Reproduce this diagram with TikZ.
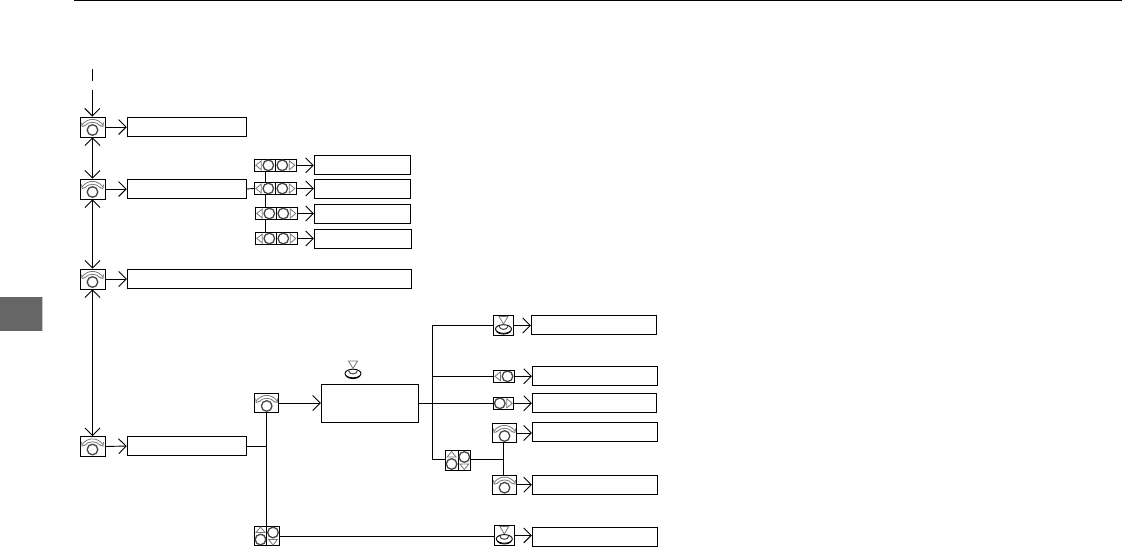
\documentclass[tikz,border=0pt]{standalone}
\usepackage{tikz}
\usetikzlibrary{arrows.meta}
\definecolor{ink}{RGB}{0,0,0}
\definecolor{tabgray}{RGB}{102,102,102}
\definecolor{tabedge}{RGB}{200,200,200}
\definecolor{soft}{RGB}{120,120,120}
\definecolor{knob}{RGB}{70,70,70}
\tikzset{
  label/.style={draw=ink, line width=0.9pt, inner sep=0pt, minimum height=19pt},
  keycap/.style={draw=ink, line width=0.9pt, fill=white, inner sep=0pt},
  flow/.style={-{Straight Barb[length=7.5pt,width=15pt,line width=0.9pt]}, ink, line width=0.9pt},
  both/.style={{Straight Barb[length=7.5pt,width=15pt,line width=0.9pt]}-{Straight Barb[length=7.5pt,width=15pt,line width=0.9pt]}, ink, line width=0.9pt},
  link/.style={ink, line width=0.9pt},
  dialicon/.pic={
    \draw[knob, line width=1.3pt] (0,3) circle (5.3pt);
    \draw[soft, line width=0.8pt] (-10.5,-2) .. controls (-5,-9.5) and (5,-9.5) .. (10.5,-2);
    \draw[soft, line width=0.8pt] (-8,-1) .. controls (-4,-6) and (4,-6) .. (8,-1);
    \draw[soft, line width=0.8pt] (-11,-4.5) -- (-10.5,-0.5) -- (-7.5,-1.5) (11,-4.5) -- (10.5,-0.5) -- (7.5,-1.5);
  },
  pushicon/.pic={
    \draw[soft, line width=0.8pt] (-4.5,-9) -- (4.5,-9) -- (0,-1.5) -- cycle;
    \draw[ink, line width=0.9pt] (0,3.5) ellipse (8pt and 4.3pt);
    \draw[knob, line width=1pt] (-4.5,0.5) .. controls (-4,5) and (4,5) .. (4.5,0.5);
    \draw[ink, line width=0.9pt] (-7,6) .. controls (-4,9.5) and (4,9.5) .. (7,6);
  },
  lefticon/.pic={
    \draw[soft, line width=0.8pt] (-3.5,-4.5) -- (-3.5,4.5) -- (-9,0) -- cycle;
    \draw[knob, line width=1.3pt] (3.5,0) circle (5.3pt);
  },
  righticon/.pic={
    \draw[soft, line width=0.8pt] (3.5,-4.5) -- (3.5,4.5) -- (9,0) -- cycle;
    \draw[knob, line width=1.3pt] (-3.5,0) circle (5.3pt);
  },
  upicon/.pic={
    \draw[soft, line width=0.8pt] (-4.5,-3.5) -- (4.5,-3.5) -- (0,-9) -- cycle;
    \draw[knob, line width=1.3pt] (0,3.5) circle (5.3pt);
  },
  downicon/.pic={
    \draw[soft, line width=0.8pt] (-4.5,3.5) -- (4.5,3.5) -- (0,9) -- cycle;
    \draw[knob, line width=1.3pt] (0,-3.5) circle (5.3pt);
  },
}
\begin{document}
\begin{tikzpicture}[x=1pt, y=-1pt]
  \useasboundingbox (0,0) rectangle (1122,547);
  % page furniture
  \draw[ink, line width=1.2pt] (74,0.6) -- (1122,0.6);
  \fill[tabedge] (0,297) rectangle (43,331);
  \fill[tabgray] (0,297) rectangle (42,331);
  % left column
  \coordinate (st1) at (92.3,69);
  \coordinate (st2) at (92.3,81);
  \coordinate (st3) at (92.3,90);
  \node[keycap, minimum width=25pt, minimum height=20pt] (a1) at (92.5,127) {};
  \node[keycap, minimum width=25pt, minimum height=20pt] (a2) at (92.5,189) {};
  \node[keycap, minimum width=25pt, minimum height=20pt] (a3) at (92.5,279) {};
  \node[keycap, minimum width=25pt, minimum height=20pt] (a4) at (92.5,446.5) {};
  \pic at (a1) {dialicon};
  \pic at (a2) {dialicon};
  \pic at (a3) {dialicon};
  \pic at (a4) {dialicon};
  \node[label, minimum width=119pt] (r1) at (186.7,127) {};
  \node[label, minimum width=119pt] (r2) at (186.7,189) {};
  \node[label, minimum width=284.5pt] (r3) at (269.5,279) {};
  \node[label, minimum width=119pt] (r4) at (186.7,446) {};
  % row of small keys
  \node[keycap, minimum width=21pt, minimum height=12.5pt] (b1l) at (264.8,165.3) {};
  \node[keycap, minimum width=21pt, minimum height=12.5pt] (b1r) at (285.8,165.3) {};
  \node[keycap, minimum width=21pt, minimum height=12.5pt] (b2l) at (264.8,188.5) {};
  \node[keycap, minimum width=21pt, minimum height=12.5pt] (b2r) at (285.8,188.5) {};
  \node[keycap, minimum width=21pt, minimum height=12.5pt] (b3l) at (265.8,213.5) {};
  \node[keycap, minimum width=21pt, minimum height=12.5pt] (b3r) at (286.8,213.5) {};
  \node[keycap, minimum width=21pt, minimum height=12.5pt] (b4l) at (265.8,238.5) {};
  \node[keycap, minimum width=21pt, minimum height=12.5pt] (b4r) at (286.8,238.5) {};
  \foreach \k in {b1,b2,b3,b4} {
    \pic at (\k l) {lefticon};
    \pic at (\k r) {righticon};
  }
  \node[label, minimum width=96.5pt] (t1) at (362.5,164.8) {};
  \node[label, minimum width=96.5pt] (t2) at (362.5,188.8) {};
  \node[label, minimum width=96.5pt] (t3) at (362.5,213.8) {};
  \node[label, minimum width=97.5pt] (t4) at (363,238.8) {};
  % lower block
  \node[keycap, minimum width=24pt, minimum height=19.5pt] (c1) at (266.7,403) {};
  \pic at (c1) {dialicon};
  \node[draw=ink, line width=0.9pt, inner sep=0pt, minimum width=97pt, minimum height=38pt] (main) at (369.8,403.3) {};
  \coordinate (mainpush) at (353,370);
  \pic at (mainpush) {pushicon};
  \node[keycap, minimum width=12.5pt, minimum height=19.7pt] (c2l) at (260.5,536) {};
  \node[keycap, minimum width=12.5pt, minimum height=19.7pt] (c2r) at (273,536) {};
  \pic at (c2l) {upicon};
  \pic at (c2r) {downicon};
  \node[keycap, minimum width=20.4pt, minimum height=20.4pt] (d1) at (503.5,325.5) {};
  \pic at (d1) {pushicon};
  \node[keycap, minimum width=21.4pt, minimum height=12pt] (d2) at (504,376.3) {};
  \pic at (d2) {lefticon};
  \node[keycap, minimum width=20pt, minimum height=12pt] (d3) at (503.3,403.3) {};
  \pic at (d3) {righticon};
  \node[keycap, minimum width=24.4pt, minimum height=19.4pt] (d4) at (504.5,433) {};
  \pic at (d4) {dialicon};
  \node[keycap, minimum width=24.4pt, minimum height=19.4pt] (d5) at (504.5,484.7) {};
  \pic at (d5) {dialicon};
  \node[keycap, minimum width=20pt, minimum height=19.4pt] (d6) at (504.3,535.4) {};
  \pic at (d6) {pushicon};
  \node[keycap, minimum width=12.7pt, minimum height=20.4pt] (fl) at (451.6,460.5) {};
  \node[keycap, minimum width=12.7pt, minimum height=20.4pt] (fr) at (464.3,460.5) {};
  \pic at (fl) {upicon};
  \pic at (fr) {downicon};
  \node[label, minimum width=125.4pt] (e1) at (594,324.8) {};
  \node[label, minimum width=125pt] (e2) at (594.8,375.8) {};
  \node[label, minimum width=124.4pt] (e3) at (594.5,402.8) {};
  \node[label, minimum width=125pt] (e4) at (594.8,431.8) {};
  \node[label, minimum width=125pt] (e5) at (594.8,484.8) {};
  \node[label, minimum width=125pt] (e6) at (594.8,536.5) {};
  % junctions
  \coordinate (busa) at (266.3,446);
  \coordinate (busb) at (432.7,403.3);
  \coordinate (busc) at (503.7,459.3);
  \coordinate (busd) at (265.3,188.5);
  % connectors, left column
  \draw[link] (st1) -- (st2);
  \draw[flow] (st3) -- (a1.north -| st3);
  \draw[both] (a1.south) -- (a2.north);
  \draw[both] (a2.south) -- (a3.north);
  \draw[both] (a3.south) -- (a4.north);
  \draw[flow] (a1.east) -- (r1.west);
  \draw[flow] (a2.east) -- (r2.west);
  \draw[flow] (a3.east) -- (r3.west);
  \draw[flow] (a4.east) -- (r4.west);
  % connectors, small keys
  \draw[link] (r2.east) -- (b2l.west);
  \draw[link] (b1l.south -| busd) -- (b2l.north -| busd);
  \draw[link] (b2l.south -| busd) -- (b3l.north -| busd);
  \draw[link] (b3l.south -| busd) -- (b4l.north -| busd);
  \draw[flow] (b1r.east) -- (t1.west |- b1r.east);
  \draw[flow] (b2r.east) -- (t2.west |- b2r.east);
  \draw[flow] (b3r.east) -- (t3.west |- b3r.east);
  \draw[flow] (b4r.east) -- (t4.west |- b4r.east);
  % connectors, lower block
  \draw[link] (r4.east) -- (busa);
  \draw[link] (c1.south -| busa) -- (c2l.north -| busa);
  \draw[flow] (c1.east) -- (main.west |- c1.east);
  \draw[link] (c2r.east) -- (d6.west |- c2r.east);
  \draw[link] (main.east) -- (d3.west);
  \draw[link] (d1.west) -| (busb);
  \draw[link] (d2.west) -- (d2.west -| busb);
  \draw[link] (busb) |- (fl.west |- busc);
  \draw[link] (fr.east |- busc) -- (busc);
  \draw[link] (d4.south -| busc) -- (d5.north -| busc);
  \draw[flow] (d1.east) -- (e1.west |- d1.east);
  \draw[flow] (d2.east) -- (e2.west |- d2.east);
  \draw[flow] (d3.east) -- (e3.west |- d3.east);
  \draw[flow] (d4.east) -- (e4.west |- d4.east);
  \draw[flow] (d5.east) -- (e5.west |- d5.east);
  \draw[flow] (d6.east) -- (e6.west |- d6.east);
\end{tikzpicture}
\end{document}
